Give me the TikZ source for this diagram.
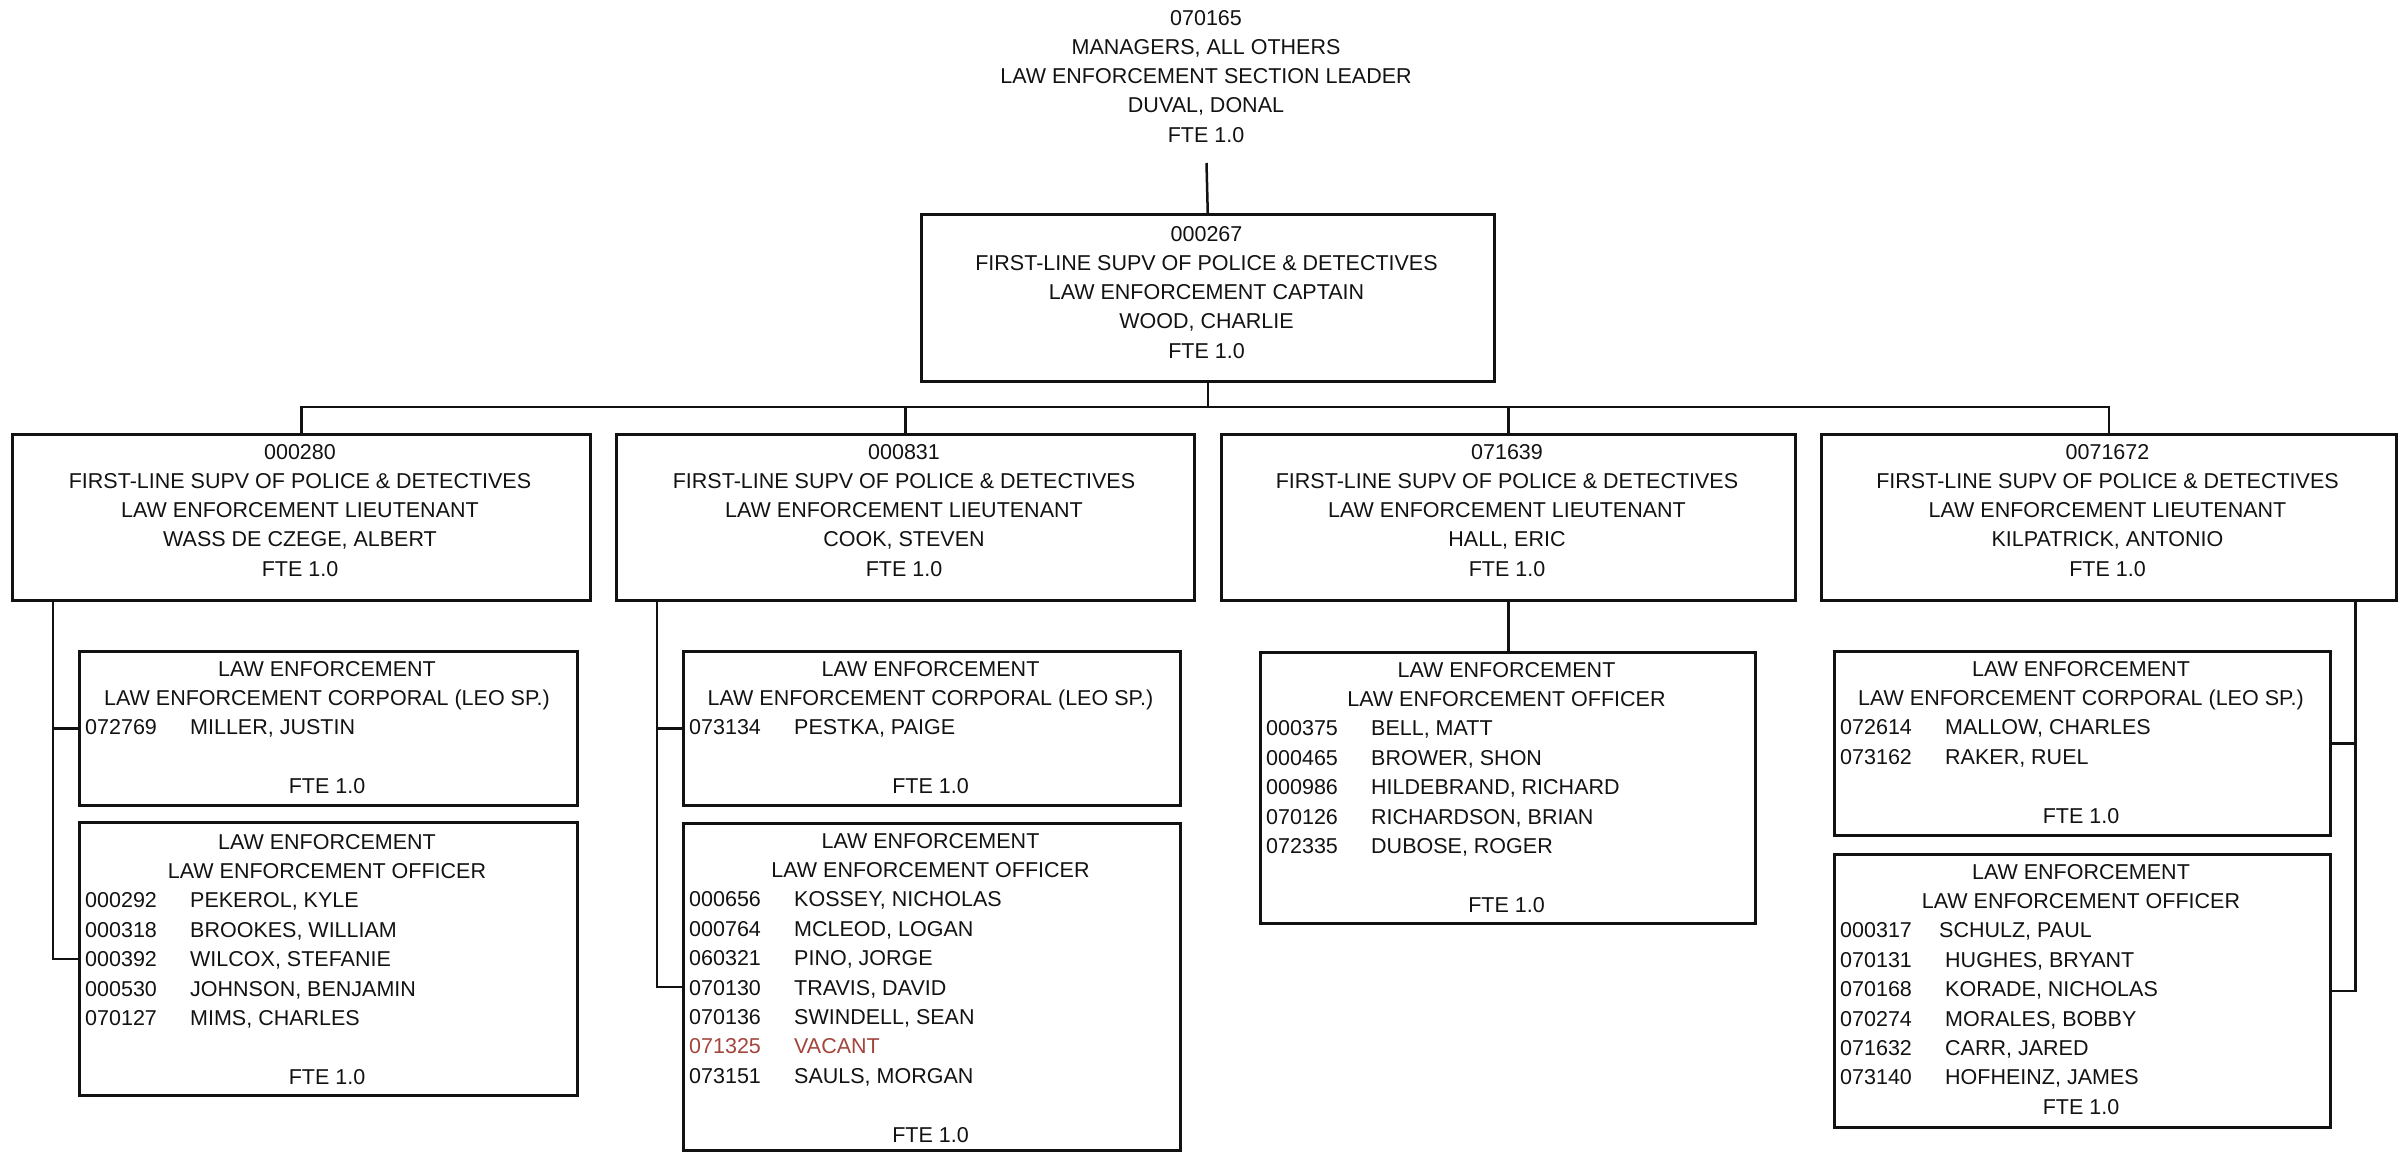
\documentclass[tikz,border=0pt]{standalone}
\usepackage{fontspec}
\setmainfont{Liberation Sans}
\usetikzlibrary{calc}
\definecolor{ink}{RGB}{18,18,18}
\definecolor{vacant}{RGB}{162,70,60}

% centred lines of a box: name prefix, centre x, first baseline, list
\newcommand\centerlines[4]{%
  \foreach \t [count=\k from 0] in {#4}
    \node[txt, anchor=base] (#1-\k) at (#2, #3+\k*29.3) {\t};}
% staff list: name prefix, box left x, first baseline, list of number/name
\newcommand\members[4]{%
  \foreach \num/\who [count=\k from 0] in {#4} {
    \node[txt, anchor=base west] (#1n\k) at (#2+7, #3+\k*29.4) {\num};
    \node[txt, anchor=base west] (#1w\k) at (#2+112, #3+\k*29.4) {\who};
  }}

\begin{document}
\begin{tikzpicture}[x=1pt,y=-1pt,
  box/.style={draw=ink, line width=2.5pt, rectangle, inner sep=0pt, anchor=north west},
  txt/.style={inner sep=0pt, text=ink, font=\fontsize{21.5}{25}\selectfont},
  wire/.style={draw=ink, line width=2.5pt, line join=miter}]
\useasboundingbox (0,0) rectangle (2401,1151);

% ---------- boxes ----------
\node[box, minimum width=573, minimum height=167] (capt) at (920,213) {};
\node[box, minimum width=578, minimum height=166] (lt1) at (11,433) {};
\node[box, minimum width=578, minimum height=166] (lt2) at (615,433) {};
\node[box, minimum width=574, minimum height=166] (lt3) at (1220,433) {};
\node[box, minimum width=575, minimum height=166] (lt4) at (1820,433) {};
\node[box, minimum width=498, minimum height=154] (c1a) at (78,650) {};
\node[box, minimum width=498, minimum height=273] (c1b) at (78,821) {};
\node[box, minimum width=497, minimum height=154] (c2a) at (682,650) {};
\node[box, minimum width=497, minimum height=327] (c2b) at (682,822) {};
\node[box, minimum width=495, minimum height=271] (c3) at (1259,651) {};
\node[box, minimum width=496, minimum height=184] (c4a) at (1833,650) {};
\node[box, minimum width=496, minimum height=273] (c4b) at (1833,853) {};

% ---------- texts ----------
\centerlines{head}{1206}{25}{070165,{MANAGERS, ALL OTHERS},LAW ENFORCEMENT SECTION LEADER,{DUVAL, DONAL},FTE 1.0}
\centerlines{captt}{1206.5}{241}{000267,FIRST-LINE SUPV OF POLICE \& DETECTIVES,LAW ENFORCEMENT CAPTAIN,{WOOD, CHARLIE},FTE 1.0}
\centerlines{lt1t}{300}{459}{000280,FIRST-LINE SUPV OF POLICE \& DETECTIVES,LAW ENFORCEMENT LIEUTENANT,{WASS DE CZEGE, ALBERT},FTE 1.0}
\centerlines{lt2t}{904}{459}{000831,FIRST-LINE SUPV OF POLICE \& DETECTIVES,LAW ENFORCEMENT LIEUTENANT,{COOK, STEVEN},FTE 1.0}
\centerlines{lt3t}{1507}{459}{071639,FIRST-LINE SUPV OF POLICE \& DETECTIVES,LAW ENFORCEMENT LIEUTENANT,{HALL, ERIC},FTE 1.0}
\centerlines{lt4t}{2107.5}{459}{0071672,FIRST-LINE SUPV OF POLICE \& DETECTIVES,LAW ENFORCEMENT LIEUTENANT,{KILPATRICK, ANTONIO},FTE 1.0}

% lieutenant 1 team
\centerlines{c1ah}{327}{676}{LAW ENFORCEMENT,LAW ENFORCEMENT CORPORAL (LEO SP.)}
\members{c1a}{78}{734.8}{072769/{MILLER, JUSTIN}}
\node[txt, anchor=base] (c1af) at (327,793.6) {FTE 1.0};
\centerlines{c1bh}{327}{849}{LAW ENFORCEMENT,LAW ENFORCEMENT OFFICER}
\members{c1b}{78}{907.8}{000292/{PEKEROL, KYLE},000318/{BROOKES, WILLIAM},000392/{WILCOX, STEFANIE},000530/{JOHNSON, BENJAMIN},070127/{MIMS, CHARLES}}
\node[txt, anchor=base] (c1bf) at (327,1084.2) {FTE 1.0};

% lieutenant 2 team
\centerlines{c2ah}{930.5}{676}{LAW ENFORCEMENT,LAW ENFORCEMENT CORPORAL (LEO SP.)}
\members{c2a}{682}{734.8}{073134/{PESTKA, PAIGE}}
\node[txt, anchor=base] (c2af) at (930.5,793.6) {FTE 1.0};
\centerlines{c2bh}{930.5}{848}{LAW ENFORCEMENT,LAW ENFORCEMENT OFFICER}
\members{c2b}{682}{906.8}{000656/{KOSSEY, NICHOLAS},000764/{MCLEOD, LOGAN},060321/{PINO, JORGE},070130/{TRAVIS, DAVID},070136/{SWINDELL, SEAN},{\color{vacant}071325}/{\color{vacant}VACANT},073151/{SAULS, MORGAN}}
\node[txt, anchor=base] (c2bf) at (930.5,1142) {FTE 1.0};

% lieutenant 3 team
\centerlines{c3h}{1506.5}{677}{LAW ENFORCEMENT,LAW ENFORCEMENT OFFICER}
\members{c3}{1259}{735.8}{000375/{BELL, MATT},000465/{BROWER, SHON},000986/{HILDEBRAND, RICHARD},070126/{RICHARDSON, BRIAN},072335/{DUBOSE, ROGER}}
\node[txt, anchor=base] (c3f) at (1506.5,912.2) {FTE 1.0};

% lieutenant 4 team
\centerlines{c4ah}{2081}{676}{LAW ENFORCEMENT,LAW ENFORCEMENT CORPORAL (LEO SP.)}
\members{c4a}{1833}{734.8}{072614/{MALLOW, CHARLES},073162/{RAKER, RUEL}}
\node[txt, anchor=base] (c4af) at (2081,823) {FTE 1.0};
\centerlines{c4bh}{2081}{879}{LAW ENFORCEMENT,LAW ENFORCEMENT OFFICER}
\members{c4b}{1833}{937.8}{000317/{\hspace*{-6pt}SCHULZ, PAUL},070131/{HUGHES, BRYANT},070168/{KORADE, NICHOLAS},070274/{MORALES, BOBBY},071632/{CARR, JARED},073140/{HOFHEINZ, JAMES}}
\node[txt, anchor=base] (c4bf) at (2081,1114.2) {FTE 1.0};

% ---------- connectors ----------
\coordinate (stem) at (1206.5,163);
\coordinate (bus) at (0,407);
\draw[wire] (stem) -- (capt.north);
\draw[wire] (capt.south) -- (capt.south |- bus);
\draw[wire] (lt1.north) -- (lt1.north |- bus) -- (lt4.north |- bus) -- (lt4.north);
\draw[wire] (lt2.north |- bus) -- (lt2.north);
\draw[wire] (lt3.north |- bus) -- (lt3.north);

\coordinate (t1) at ($(lt1.south west)+(42,0)$);
\draw[wire] (t1) |- (c1b.west);
\draw[wire] (t1 |- c1a.west) -- (c1a.west);

\coordinate (t2) at ($(lt2.south west)+(42,0)$);
\draw[wire] (t2) |- (c2b.west);
\draw[wire] (t2 |- c2a.west) -- (c2a.west);

\draw[wire] (lt3.south) -- (lt3.south |- c3.north);

\coordinate (t4) at ($(lt4.south east)+(-42,0)$);
\draw[wire] (t4) |- (c4b.east);
\draw[wire] (t4 |- c4a.east) -- (c4a.east);
\end{tikzpicture}
\end{document}
